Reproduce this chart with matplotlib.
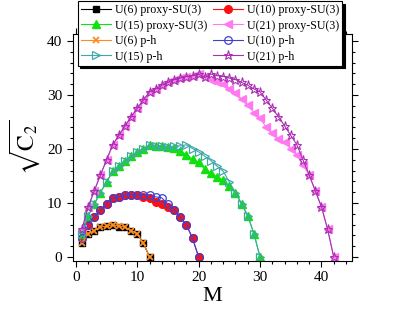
import matplotlib
matplotlib.use("Agg")
import matplotlib.pyplot as plt
from matplotlib.ticker import MultipleLocator

plt.rcParams['font.family'] = ['Liberation Serif', 'DejaVu Serif']
plt.rcParams['mathtext.fontset'] = 'stix'

# sqrt(C2) values, M = 1 ... 2N
u6_proxy = [2.58, 4.32, 4.90, 5.54, 5.72, 6.00, 5.54, 5.54, 4.90, 4.32, 2.58, 0.00]
u6_ph = [2.58, 4.32, 4.90, 5.54, 5.72, 6.00, 5.72, 5.54, 4.90, 4.32, 2.58, 0.00]

u10_proxy = [3.46, 6.00, 7.35, 8.72, 9.80, 10.95, 11.14, 11.49, 11.49, 11.49,
             11.14, 10.95, 10.10, 9.80, 9.17, 8.72, 7.35, 6.00, 3.46, 0.00]
u10_ph = [3.46, 6.00, 7.35, 8.72, 9.80, 10.95, 11.14, 11.49, 11.49, 11.49,
          11.49, 11.49, 11.14, 10.95, 9.80, 8.72, 7.35, 6.00, 3.46, 0.00]

u15_proxy = [4.32, 7.66, 9.80, 11.94, 13.88, 15.87, 16.81, 17.85, 18.65, 19.46,
             20.07, 20.78, 20.56, 20.56, 20.35, 20.17, 19.56, 18.97, 18.13, 17.51,
             16.25, 15.58, 14.79, 14.28, 13.06, 11.94, 9.80, 7.66, 4.32, 0.00]
u15_ph = [4.32, 7.66, 9.80, 11.94, 13.88, 15.87, 16.81, 17.85, 18.65, 19.46,
          20.07, 20.78, 20.56, 20.56, 20.35, 20.56, 20.56, 20.78, 20.07, 19.46,
          18.65, 17.85, 16.81, 15.87, 13.88, 11.94, 9.80, 7.66, 4.32, 0.00]

u21_proxy = [5.16, 9.31, 12.25, 15.19, 17.96, 20.78, 22.51, 24.30, 25.92, 27.54,
             29.03, 30.59, 31.12, 31.79, 32.31, 32.84, 33.12, 33.41, 33.57, 33.86,
             33.23, 32.84, 32.35, 31.94, 31.16, 30.38, 29.19, 28.05, 26.73, 25.69,
             24.01, 22.95, 21.91, 21.23, 20.02, 18.97, 17.05, 15.19, 12.25, 9.31,
             5.16, 0.00]
u21_ph = [5.16, 9.31, 12.25, 15.19, 17.96, 20.78, 22.51, 24.30, 25.92, 27.54,
          29.03, 30.59, 31.12, 31.79, 32.31, 32.84, 33.12, 33.41, 33.57, 33.86,
          33.23, 33.86, 33.57, 33.41, 33.12, 32.84, 32.31, 31.79, 31.12, 30.59,
          29.03, 27.54, 25.92, 24.30, 22.51, 20.78, 17.96, 15.19, 12.25, 9.31,
          5.16, 0.00]

fig = plt.figure(figsize=(4.09, 3.13), dpi=100)
ax = fig.add_axes([0.178, 0.166, 0.683, 0.724])


def m_values(serie):
    return list(range(1, len(serie) + 1))


ms = 4.5
lw = 0.8
# proxy-SU(3)
l6p, = ax.plot(m_values(u6_proxy), u6_proxy, '-s', color='black', ms=ms, lw=lw,
               label='U(6) proxy-SU(3)')
l10p, = ax.plot(m_values(u10_proxy), u10_proxy, '-o', color='#ff1010', ms=ms + 1,
                lw=lw, label='U(10) proxy-SU(3)')
l15p, = ax.plot(m_values(u15_proxy), u15_proxy, '-^', color='#10e010', ms=ms + 1,
                lw=lw, label='U(15) proxy-SU(3)')
l21p, = ax.plot(m_values(u21_proxy), u21_proxy, '-<', color='#ff7af0', ms=ms + 1,
                lw=lw, label='U(21) proxy-SU(3)')
# particle-hole
l6h, = ax.plot(m_values(u6_ph), u6_ph, '-x', color='#ff8c20', ms=ms, mew=1.3,
               lw=lw, label='U(6) p-h')
l10h, = ax.plot(m_values(u10_ph), u10_ph, '-o', color='#4040d0', mfc='none',
                ms=ms + 1, mew=0.9, lw=lw, label='U(10) p-h')
l15h, = ax.plot(m_values(u15_ph), u15_ph, '->', color='#40a8a8', mfc='none',
                ms=ms + 1, mew=0.9, lw=lw, label='U(15) p-h')
l21h, = ax.plot(m_values(u21_ph), u21_ph, '-*', color='#a830b0', mfc='none',
                ms=ms + 2, mew=0.8, lw=lw, label='U(21) p-h')

ax.set_xlim(-0.5, 45)
ax.set_ylim(-0.74, 41.2)
ax.xaxis.set_major_locator(MultipleLocator(10))
ax.xaxis.set_minor_locator(MultipleLocator(2))
ax.yaxis.set_major_locator(MultipleLocator(10))
ax.yaxis.set_minor_locator(MultipleLocator(2))
ax.tick_params(which='both', direction='out', top=True, right=True,
               labelsize=11, width=0.8)
ax.tick_params(which='major', length=4)
ax.tick_params(which='minor', length=2.5)

ax.set_xlabel('M', fontsize=16, labelpad=2)
ax.set_ylabel(r'$\sqrt{\mathrm{C}_2}$', fontsize=17, labelpad=4)

# column-major order so rows read as in the original
handles = [l6p, l15p, l6h, l15h, l10p, l21p, l10h, l21h]
leg = ax.legend(handles=handles, labels=[h.get_label() for h in handles],
                ncol=2, loc='upper left', bbox_to_anchor=(0.19, 0.997),
                bbox_transform=fig.transFigure, borderaxespad=0,
                fontsize=8.6, handlelength=2.5, columnspacing=0.5,
                labelspacing=0.3, borderpad=0.25, handletextpad=0.35,
                fancybox=False, framealpha=1, edgecolor='black',
                shadow={'color': 'black', 'alpha': 1})
leg.get_frame().set_linewidth(0.8)

fig.savefig('out.png', dpi=100)
